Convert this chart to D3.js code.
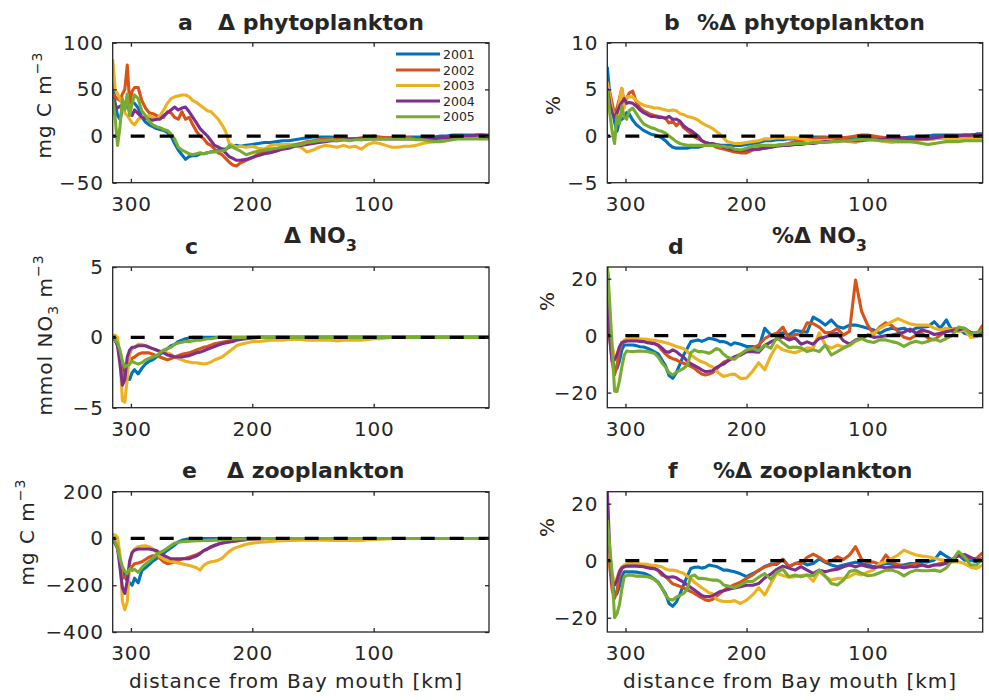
<!DOCTYPE html>
<html><head><meta charset="utf-8">
<script src="https://cdn.jsdelivr.net/npm/d3@7"></script>
<style>
body{margin:0;background:#fff}
svg{display:block}
text{font-family:"DejaVu Sans",sans-serif;fill:#262626}
</style>
</head><body>
<svg id="chart" width="989" height="700"></svg>
<script>
// ---------------- data ----------------
const km = [315,313,311,309,307,305,303,301,299,297,294,291,288,285,282,279,276,273,270,267,264,261,258,255,252,249,246,243,240,237,234,231,228,225,222,219,216,213,210,205,200,195,190,185,180,175,170,165,160,155,150,145,140,135,130,125,120,115,110,105,100,95,90,85,80,75,70,65,60,55,50,45,40,35,30,25,20,15,10,5];
const years = ["2001","2002","2003","2004","2005"];
const xTicks = [300,200,100];

// a: delta phytoplankton (mg C m-3)
const phytoDelta = [
 [60,35,22,18,28,30,35,38,36,35, 30,20,15,12,10,8,7,6,4,0, -8,-15,-20,-25,-22,-21,-21,-19,-19,-18, -17,-16,-15,-14,-14,-12,-11,-10,-11, -10,-9,-8,-7,-7,-6,-5,-5,-4,-3, -2,-1,-1,-1,-1,-2,-2,-3,-3,-4, -3,-2,-2,-2,-2,-1,-1,-1,-1,-1, -1,-1,0,0,1,1,1,1,1,1,0],
 [45,42,40,38,45,50,76,35,48,52, 52,38,30,25,24,22,20,20,26,25, 20,18,26,18,20,12,5,0,-3,-8, -10,-14,-18,-20,-24,-28,-31,-32,-29, -26,-23,-19,-17,-15,-14,-12,-11,-9,-8, -6,-5,-4,-3,-3,-3,-3,-3,-3,-2, -1,0,-1,-2,-2,-2,-2,-2,-3,-3, -3,-3,-3,-2,-2,-2,-2,-1,-1,-1,-1],
 [82,50,45,40,35,25,22,18,14,12, 18,20,20,22,20,18,22,28,35,40, 42,43,44,44,42,38,36,33,30,27, 26,22,18,12,5,-8,-10,-12,-11, -12,-11,-13,-14,-10,-9,-9,-9,-10,-12, -17,-15,-12,-10,-11,-12,-10,-12,-11,-14, -9,-7,-8,-10,-12,-12,-11,-11,-10,-8, -7,-6,-4,-3,-3,-2,-2,-2,-1,-1,-1],
 [41,33,30,32,33,30,36,25,22,28, 24,20,19,18,17,18,18,22,25,28, 31,28,30,31,26,20,14,8,4,0, -5,-10,-12,-14,-18,-22,-24,-26,-26, -25,-23,-21,-19,-18,-16,-14,-13,-11,-10, -9,-8,-7,-6,-5,-5,-4,-4,-3,-3, -3,-3,-3,-3,-3,-3,-3,-3,-3,-3, -3,-3,-2,-2,-2,-1,0,0,1,1,1],
 [40,20,-10,10,40,28,45,22,35,44, 40,27,22,16,12,10,9,7,6,2, -3,-12,-15,-17,-19,-20,-19,-18,-19,-18, -17,-17,-16,-16,-15,-10,-12,-14,-16, -20,-18,-16,-15,-14,-13,-12,-11,-10,-9, -7,-6,-5,-5,-4,-5,-4,-5,-4,-4, -3,-3,-3,-3,-3,-3,-3,-3,-4,-4, -5,-6,-6,-5,-4,-3,-3,-3,-3,-3,-3]
];
// b: % delta phytoplankton
const phytoPct = [
 [7.4,4.5,3.0,1.5,0.5,1.6,1.8,2.0,2.5,2.4, 1.7,1.2,0.9,0.6,0.4,0.2,0.1,0.0,-0.2,-0.5, -0.9,-1.2,-1.3,-1.3,-1.3,-1.3,-1.2,-1.2,-1.2,-1.1, -1.0,-1.0,-1.0,-1.0,-1.0,-1.0,-1.0,-1.0,-1.0, -1.0,-0.9,-0.8,-0.7,-0.5,-0.5,-0.4,-0.4,-0.3,-0.3, -0.2,-0.2,-0.1,-0.1,-0.1,-0.2,-0.2,-0.2,-0.2,-0.3, -0.3,-0.2,-0.2,-0.2,-0.2,-0.2,-0.2,-0.2,-0.1,-0.1, -0.1,0.0,0.1,0.1,0.1,0.1,0.1,0.1,0.1,0.2,0.2],
 [5.5,4.7,3.5,2.3,3.0,4.0,5.1,3.5,4.0,4.6, 4.8,3.6,3.0,2.7,2.5,2.3,2.2,2.1,2.0,1.9, 1.4,1.6,1.1,1.5,0.9,0.6,0.3,-0.1,-0.3,-0.5, -0.7,-0.8,-1.0,-1.2,-1.3,-1.4,-1.5,-1.6,-1.7, -1.8,-1.8,-1.5,-1.4,-1.3,-1.2,-1.0,-0.9,-0.8,-0.6, -0.5,-0.4,-0.3,-0.2,-0.2,-0.2,-0.2,-0.2,-0.1,0.0, 0.1,0.1,0.0,-0.1,-0.2,-0.2,-0.2,-0.3,-0.3,-0.3, -0.3,-0.3,-0.3,-0.2,-0.2,-0.2,-0.2,-0.1,-0.1,0.0,0.1],
 [5.8,4.3,2.8,2.2,2.0,3.8,5.1,3.0,4.2,4.2, 4.2,3.8,3.5,3.3,3.2,3.1,3.0,3.0,2.9,2.8, 2.7,2.8,2.7,2.4,2.3,2.1,2.0,1.9,1.7,1.4, 1.2,1.0,0.8,0.5,0.2,-0.2,-0.6,-0.7,-0.8, -0.8,-0.7,-0.6,-0.5,-0.3,-0.3,-0.2,-0.2,-0.2,-0.2, -0.3,-0.4,-0.5,-0.5,-0.5,-0.5,-0.5,-0.5,-0.6,-0.7, -0.4,-0.4,-0.4,-0.5,-0.6,-0.7,-0.6,-0.6,-0.6,-0.5, -0.4,-0.3,-0.3,-0.2,-0.2,-0.2,-0.2,-0.3,-0.3,-0.3,-0.3],
 [5.1,3.5,2.5,2.0,2.5,3.2,3.6,4.0,3.5,3.6, 3.5,3.2,2.8,2.5,2.3,2.1,2.1,2.0,2.0,1.9, 2.1,1.8,1.8,1.6,1.1,0.8,0.6,0.3,0.0,-0.5, -0.7,-0.8,-0.8,-0.9,-1.0,-1.2,-1.3,-1.4,-1.5, -1.6,-1.5,-1.4,-1.4,-1.3,-1.2,-1.1,-1.0,-1.0,-0.9, -0.9,-0.8,-0.8,-0.7,-0.6,-0.6,-0.5,-0.5,-0.5,-0.5, -0.5,-0.4,-0.4,-0.4,-0.3,-0.2,-0.2,-0.2,-0.3,-0.3, -0.3,-0.3,-0.2,-0.1,0.0,0.0,0.0,0.1,0.1,0.2,0.2],
 [4.9,2.5,0.5,-0.8,2.2,1.3,3.2,2.0,1.8,2.7, 3.0,2.4,1.8,1.3,1.1,0.9,0.8,0.6,0.5,0.3, 0.0,-0.3,-0.6,-0.8,-0.9,-1.0,-1.0,-1.0,-1.0,-1.0, -1.0,-1.0,-1.0,-1.0,-1.1,-1.1,-1.2,-1.2,-1.4, -1.5,-1.3,-1.1,-1.0,-1.0,-1.0,-1.0,-0.9,-0.9,-0.8, -0.8,-0.8,-0.7,-0.7,-0.7,-0.6,-0.6,-0.5,-0.5,-0.4, -0.4,-0.4,-0.4,-0.5,-0.5,-0.5,-0.6,-0.6,-0.6,-0.7, -0.8,-0.9,-0.8,-0.7,-0.6,-0.6,-0.6,-0.5,-0.5,-0.5,-0.5]
];
// c: delta NO3 (mmol NO3 m-3)
const no3Delta = [
 [0.0,-0.2,-0.5,-1.2,-2.1,-2.7,-3.0,-3.0,-2.5,-2.3, -2.6,-2.2,-1.9,-1.7,-1.6,-1.4,-1.2,-1.0,-0.8,-0.6, -0.5,-0.3,-0.2,-0.1,-0.05,0,0,0,0,0, 0,0,0,0,0,0,0,0,0, 0,0,0,0,0,0,0,0,0,0, 0,0,0,0,0,0,0,0,0,0, 0,0,0,0,0,0,0,0,0,0, 0,0,0,0,0,0,0,0,0,0,0],
 [0.1,-0.2,-0.5,-1.4,-3.0,-2.5,-2.1,-1.7,-1.5,-1.4, -1.2,-1.1,-1.1,-1.1,-1.2,-1.3,-1.4,-1.5,-1.6,-1.5, -1.4,-1.3,-1.2,-1.15,-1.1,-1.0,-0.9,-0.8,-0.7,-0.65, -0.55,-0.45,-0.4,-0.35,-0.3,-0.25,-0.2,-0.15,-0.1, -0.05,0,0,0,0,0,0,0,0,0, 0,0,0,0,0,0,0,0,0,0, 0,0,0,0,0,0,0,0,0,0, 0,0,0,0,0,0,0,0,0,0,0],
 [0.15,0.15,0.0,-1.5,-4.5,-4.6,-2.9,-1.2,-0.8,-0.7, -0.5,-0.5,-0.6,-0.7,-0.8,-0.9,-1.0,-1.0,-1.1,-1.2, -1.4,-1.5,-1.6,-1.7,-1.75,-1.8,-1.8,-1.85,-1.9,-1.85, -1.75,-1.6,-1.5,-1.4,-1.2,-1.0,-0.8,-0.6,-0.5, -0.4,-0.3,-0.3,-0.25,-0.2,-0.2,-0.2,-0.15,-0.15,-0.15, -0.2,-0.2,-0.2,-0.2,-0.2,-0.25,-0.2,-0.2,-0.2,-0.2, -0.15,-0.1,-0.1,-0.05,0,0,0,0,0,0, 0,0,0,0,0,0,0,0,0,0,0],
 [0.0,-0.2,-0.6,-1.9,-3.4,-3.0,-1.4,-0.9,-0.7,-0.7, -0.6,-0.6,-0.6,-0.7,-0.8,-0.9,-1.0,-1.1,-1.25,-1.3, -1.4,-1.4,-1.4,-1.35,-1.3,-1.2,-1.1,-1.05,-0.95,-0.85, -0.75,-0.65,-0.55,-0.45,-0.4,-0.35,-0.3,-0.2,-0.15, -0.1,-0.05,0,0,0,0,0,0,0,0, 0,0,0,0,0,0,0,0,0,0, 0,0,0,0,0,0,0,0,0,0, 0,0,0,0,0,0,0,0,0,0,0],
 [0.1,-0.2,-0.4,-0.9,-1.7,-2.1,-2.0,-1.9,-1.7,-1.8, -1.9,-1.8,-1.6,-1.5,-1.4,-1.3,-1.1,-0.9,-0.8,-0.7, -0.5,-0.4,-0.35,-0.3,-0.3,-0.25,-0.2,-0.2,-0.15,-0.1, -0.1,-0.05,0,0,0,0,0,0,0, 0,0,0,0,0,0,0,0,0,0, 0,0,0,0,0,0,0,0,0,0, 0,0,0,0,0,0,0,0,0,0, 0,0,0,0,0,0,0,0,0,0,0]
];
// d: % delta NO3
const no3Pct = [
 [24.5,1.4,-6.8,-12.6,-11.5,-9,-5,-3.3,-3.3,-3.3, -3.3,-3.5,-3.9,-4.0,-4.4,-5.0,-5.7,-6.4,-8.5,-10.5, -14,-15,-13,-10,-6.8,-4.5,-2.1,-1.8,-1.5,-2.0, -1.5,-0.9,-1.2,-1.5,-2.1,-2.1,-2.5,-3.3,-2.5, -3.0,-3.8,-3.8,-4.4,2.6,0.2,0.6,1.0,0.2,1.8, 1.5,1.2,6.5,5.3,3.7,5.5,3.2,2.6,3.7,3.7, 3.2,2.6,2.0,0.8,2.0,2.6,2.2,2.6,1.5,2.6, 3.0,3.2,4.9,2.6,5.5,1.5,2.6,0.8,0.4,1.0,1.2],
 [24.8,-1,-9.1,-13.8,-10.3,-5,-2.5,-2.1,-1.8,-1.6, -1.5,-1.5,-1.5,-1.7,-1.9,-2.1,-2.8,-3.5,-5,-6.4, -7.5,-8.1,-8.5,-9.2,-9.7,-10.3,-10.8,-11.5,-12.6,-13.5, -13.8,-13.5,-13,-11.8,-10.5,-9.3,-8.8,-8.1,-7.5, -6.5,-5.6,-4.4,-3.3,-1.0,0.2,0.8,3.0,-1.0,0.5, 0.2,4.5,4.2,3.0,1.0,1.2,2.5,0.2,1.5,19.5, 8.5,3.7,0.5,3.0,4.5,3.5,1.5,-0.6,-1.2,0.2, 0.8,-0.9,-1.5,0.2,1.5,2.3,2.6,2.0,1.2,0.2,3.7],
 [24.0,3.7,-3.3,-8,-6.8,-4,-2.5,-1.5,-1.2,-1.0, -0.9,-0.9,-1.1,-1.2,-1.3,-1.5,-1.6,-1.9,-2.1,-2.5, -2.8,-3.3,-3.8,-4.2,-4.5,-5.5,-6.8,-7.7,-8.5,-9.2, -9.6,-10.5,-11,-12.3,-13.5,-14.3,-14,-13.6,-13.5, -15,-14.9,-12.5,-9.5,-12,-7,-3.5,-5,-5.6,-6, -5.2,-4.4,-4.4,1.0,-3.3,-4.4,-3.3,-4.0,-3.5,-2.0, -0.9,0.2,0.8,2.5,3.7,4.9,6.0,5.0,4.2,3.7, 3.7,3.7,2.6,2.0,2.6,2.0,1.4,2.0,-0.6,-0.3,0.8],
 [24.5,-1,-9,-8.5,-6.8,-4,-2.5,-2.1,-1.9,-1.9, -1.9,-1.9,-2.0,-2.1,-2.5,-2.7,-2.8,-3.3,-4.3,-5.6, -5.8,-5.0,-5.6,-6.7,-7.5,-9.0,-9.8,-10.5,-11.2,-12, -12.6,-12.5,-12.3,-11.2,-10.5,-10,-9.1,-8.3,-7.5, -6.9,-5.6,-5.6,-5.8,-3.5,-2.2,-1.2,-0.4,-1.5,-0.8, -3.0,-2.2,-3.0,-1.0,-0.5,0.5,0.8,-1.8,-3.0,-1.5, -0.9,0.2,-0.6,-0.4,0.0,0.2,0.7,1.2,2.3,0.8, 2.0,1.4,0.4,0.8,1.4,1.8,2.0,2.6,1.0,0.8,1.4],
 [24.8,11.3,-4,-19.5,-19.6,-16,-11,-6.8,-5.4,-5.5, -5.6,-5.5,-5.4,-5.5,-5.6,-5.9,-6.2,-7.5,-9.5,-11, -13,-13.8,-12.8,-12.2,-11.5,-10.4,-6,-5,-5.6,-5.6, -5.8,-6.2,-5.5,-4.5,-5,-6.5,-7.5,-8,-8.3, -6.5,-5,-4.5,-5.3,-3.3,-4.4,-0.6,-2.6,-4.2,-4.0, -4.3,-5.6,-5.0,-5.6,-3.3,-6.8,-5.6,-4.4,-3.3,-1.8, -1.0,-2.0,-2.4,-1.5,-1.5,-2.1,-2.6,-3.8,-2.6,-2.0, -2.6,-2.0,-1.2,-2.0,-1.0,0.2,3.0,2.6,0.6,1.0,2.0]
];
// e: delta zooplankton (mg C m-3)
const zooDelta = [
 [5,-20,-40,-90,-135,-165,-180,-190,-200,-170, -190,-137,-125,-112,-97,-87,-75,-63,-51,-40, -28,-15,-8,-4,-2,0,0,0,0,0, 0,0,0,0,0,0,0,0,0, 0,0,0,0,0,0,0,0,0,0, 0,0,0,0,0,0,0,0,0,0, 0,0,0,0,0,0,0,0,0,0, 0,0,0,0,0,0,0,0,0,0,0],
 [5,-20,-45,-100,-170,-165,-155,-135,-120,-108, -105,-100,-90,-80,-74,-75,-85,-100,-108,-105, -100,-93,-88,-85,-80,-75,-70,-62,-52,-45, -38,-31,-25,-20,-17,-15,-13,-11,-9, -5,-3,-2,-1,0,0,0,0,0,0, 0,0,0,0,0,0,0,0,0,0, 0,0,0,0,0,0,0,0,0,0, 0,0,0,0,0,0,0,0,0,0,0],
 [18,15,5,-70,-270,-305,-270,-110,-60,-45, -35,-32,-31,-35,-44,-60,-78,-88,-94,-98, -101,-105,-108,-112,-115,-120,-125,-135,-115,-105, -100,-97,-93,-85,-70,-55,-45,-38,-33, -25,-20,-17,-15,-13,-11,-10,-9,-8,-7, -7,-7,-7,-7,-8,-8,-9,-9,-10,-9, -5,-4,-3,-2,-1,0,0,0,0,0, 0,0,0,0,0,0,0,0,0,0,0],
 [0,-20,-40,-125,-210,-235,-180,-95,-60,-50, -45,-45,-45,-45,-48,-52,-62,-73,-80,-87, -87,-87,-87,-87,-87,-80,-75,-65,-52,-45, -35,-29,-24,-19,-16,-14,-12,-10,-8, -4,-2,-1,0,0,0,0,0,0,0, 0,0,0,0,0,0,0,0,0,0, 0,0,0,0,0,0,0,0,0,0, 0,0,0,0,0,0,0,0,0,0,0],
 [5,-15,-40,-85,-120,-140,-150,-130,-137,-132, -145,-125,-110,-97,-85,-68,-60,-52,-42,-30, -20,-16,-14,-13,-12,-11,-10,-10,-9,-8, -8,-7,-7,-6,-5,-4,-3,-3,-2, -2,-1,-1,0,0,0,0,0,0,0, 0,0,0,0,0,0,0,0,0,0, 0,0,0,0,0,0,0,0,0,0, 0,0,0,0,0,0,0,0,0,0,0]
];
// f: % delta zooplankton
const zooPct = [
 [15.4,0.2,-6.8,-12.6,-11.5,-9,-5.5,-3.9,-3.9,-3.9, -3.9,-4.0,-4.2,-4.4,-4.9,-5.6,-6.5,-7.5,-9.5,-11.5, -15,-16,-14.5,-11.7,-8.5,-5.5,-2.7,-2.3,-2.2,-2.6, -2.3,-1.5,-1.8,-2.0,-2.6,-3.3,-3.3,-3.6,-3.9, -4.6,-5.6,-4.5,-3.5,-2.0,-1.2,-1.3,0.5,-2.1,-1.0, -0.4,-1.5,-1.0,0.6,-0.6,-1.5,-2.1,-1.5,-1.0,-0.5, -1.0,-1.5,-2.1,-1.5,-1.0,-1.2,-1.5,-1.5,-1.0,-1.0, -0.4,-0.4,0.2,3.0,1.5,0.2,2.0,0.2,0.2,-0.4,0.2],
 [21,-2.1,-10.3,-13.2,-10.3,-5,-2.8,-2.0,-1.6,-1.5, -1.5,-1.5,-1.5,-1.7,-1.9,-2.1,-2.6,-3.5,-5,-5.5, -6.8,-8.1,-8.5,-9.0,-9.5,-10.2,-10.8,-11.5,-12.3,-13, -13.8,-14.0,-13.5,-12.5,-11.5,-10.5,-9.5,-9.0,-8.4, -7.5,-6.2,-5.0,-3.3,-2.2,-1.5,-1.0,0.5,-2.1,-1.0, -1.0,1.2,2.3,1.2,-0.3,0,1.4,0.4,2.0,4.9, 0.5,-0.5,-0.5,-1.2,2.0,-0.5,-1.5,-2.1,-1.5,-1.0, -1.5,-2.0,-1.5,-1.0,-0.5,0.5,2.0,1.4,0.8,0.8,2.8],
 [10.8,1.4,-4.4,-8.1,-6.2,-3.5,-2.2,-1.5,-1.2,-1.0, -0.9,-0.9,-1.1,-1.2,-1.3,-1.5,-1.6,-1.9,-2.1,-2.9, -3.3,-3.3,-3.5,-4.0,-4.4,-5.5,-6.2,-7.6,-8.5,-9.5, -10.3,-11.2,-11.6,-13.5,-14,-14.3,-14.3,-14.3,-14.0, -15,-13.8,-12.0,-9.5,-12,-8,-4.4,-5.2,-5.8,-5.6, -5.2,-5.0,-7.2,-3.8,-5.6,-6.8,-6.2,-6.2,-5.6,-4.4, -5.0,-4.0,-3.2,-1.0,-0.4,0.8,2.0,3.7,2.8,2.0, 1.6,1.4,0.9,0.4,0,-0.4,-0.4,-1.0,-2.3,-2.7,-1.5],
 [24.8,4,-8.1,-8.5,-6.8,-4,-2.5,-2.1,-1.9,-1.9, -1.9,-1.9,-2.0,-2.1,-2.5,-2.7,-2.8,-3.3,-4.3,-5.6, -5.8,-5.6,-6.0,-6.8,-7.5,-8.5,-9.4,-10.3,-11.2,-12.2, -12.6,-12.6,-12.3,-11.5,-10.8,-10.5,-10.2,-9.8,-9.6, -9.1,-8.6,-8.6,-8,-6.0,-4.7,-3.0,-1.9,-2.6,-3.3, -2.1,-3.3,-4.4,-3.3,-3.9,-3.3,-3.0,-2.1,-1.5,-2.1, -1.5,-2.1,-2.5,-2.1,-2.5,-2.3,-2.1,-2.5,-2.1,-2.1, -1.5,-2.1,-1.5,-1.5,-0.9,0.5,1.8,2.2,1.2,0.2,0.8],
 [14.3,5,-5,-20,-18.5,-15.5,-10,-5.6,-5.2,-5.0, -5.2,-5.4,-5.4,-5.5,-5.6,-6.0,-6.6,-7.8,-9.5,-12, -13.5,-13.8,-12.8,-12.2,-11.5,-10,-5.5,-5.0,-6.2,-6.2, -6.3,-6.6,-6.8,-6.8,-7.2,-8.5,-8.8,-9.1,-9.4, -8.5,-7.3,-7.3,-5.8,-4.5,-6.5,-4.0,-3.0,-5.6,-5.0, -5.6,-5.0,-5.3,-3.3,-5.4,-8,-8.5,-6.8,-3.8,-3.3, -4.4,-5.3,-5.0,-4.2,-3.3,-3.3,-4.0,-5.3,-4.0,-3.3, -3.5,-3.5,-3.3,-3.8,-2.5,0.2,3.2,1.4,-1.5,-1.5,0.8]
];

// ---------------- layout / style ----------------
const colors = ["#0072BD","#D95319","#EDB120","#7E2F8E","#77AC30"];
const ink = "#262626";
const colX = [[112.7,489],[607.3,982.7]];
const rowY = [[42.7,182.7],[267,407.7],[491.7,632]];

const panels = [
 {vals:phytoDelta, col:0, row:0, domain:[-50,100], ticks:[-50,0,50,100]},
 {vals:phytoPct,   col:1, row:0, domain:[-5,10],   ticks:[-5,0,5,10]},
 {vals:no3Delta,   col:0, row:1, domain:[-5,5],    ticks:[-5,0,5]},
 {vals:no3Pct,     col:1, row:1, domain:[-25.3,24.1], ticks:[-20,0,20]},
 {vals:zooDelta,   col:0, row:2, domain:[-400,200], ticks:[-400,-200,0,200]},
 {vals:zooPct,     col:1, row:2, domain:[-25,24.2], ticks:[-20,0,20]}
];

const svg = d3.select("#chart");
const fmt = d3.format("");

panels.forEach((p, pi) => {
  const [x0,x1] = colX[p.col], [y0,y1] = rowY[p.row];
  const x = d3.scaleLinear().domain([315,5]).range([x0,x1]);
  const y = d3.scaleLinear().domain(p.domain).range([y1,y0]);
  const g = svg.append("g");

  const cid = "clip"+pi;
  svg.append("clipPath").attr("id",cid).append("rect")
    .attr("x",x0).attr("y",y0).attr("width",x1-x0).attr("height",y1-y0);

  const line = d3.line().x(d=>x(d[0])).y(d=>y(d[1]));
  const lg = g.append("g").attr("clip-path",`url(#${cid})`);
  p.vals.forEach((s,i) => {
    const pts = km.map((k,j)=>[k,s[j]]).filter(d=>d[1]!==undefined);
    lg.append("path").attr("d",line(pts)).attr("fill","none")
      .attr("stroke",colors[i]).attr("stroke-width",3.1)
      .attr("stroke-linejoin","round").attr("stroke-linecap","butt");
  });
  // zero dashed line
  lg.append("path").attr("d",line([[315,0],[5,0]]))
    .attr("stroke","#000").attr("stroke-width",3.3).attr("fill","none")
    .attr("stroke-dasharray","14,15").attr("stroke-dashoffset",11);

  // axes
  const axB = d3.axisBottom(x).tickValues(xTicks).tickSize(-4).tickPadding(14).tickFormat(fmt);
  const axT = d3.axisTop(x).tickValues(xTicks).tickSize(-4).tickFormat(()=> "");
  const axL = d3.axisLeft(y).tickValues(p.ticks).tickSize(-4).tickPadding(9).tickFormat(fmt);
  const axR = d3.axisRight(y).tickValues(p.ticks).tickSize(-4).tickFormat(()=> "");
  const add = (ax, tr) => {
    const a = g.append("g").attr("transform",tr).call(ax);
    a.attr("font-size",null).attr("font-family",null).attr("color",ink);
    a.select(".domain").remove();
    a.selectAll(".tick line").attr("stroke-width",1.3);
    a.selectAll("text").style("font-size","20px").style("letter-spacing","0.8px").attr("fill",ink);
    return a;
  };
  add(axB, `translate(0,${y1})`);
  add(axT, `translate(0,${y0})`);
  add(axL, `translate(${x0},0)`);
  add(axR, `translate(${x1},0)`);
  g.append("rect").attr("x",x0).attr("y",y0).attr("width",x1-x0).attr("height",y1-y0)
    .attr("fill","none").attr("stroke",ink).attr("stroke-width",1.3);
});

// ---------------- titles ----------------
function title(letter, lx, ly, parts, tx, ty){
  svg.append("text").attr("x",lx).attr("y",ly).attr("font-weight","bold")
    .style("font-size","22px").attr("fill","#000").text(letter);
  const t = svg.append("text").attr("x",tx).attr("y",ty).attr("font-weight","bold")
    .style("font-size","22px").attr("fill","#000");
  parts.forEach(pt => {
    const s = t.append("tspan").text(pt.t);
    if (pt.sub) s.style("font-size","16px").attr("dy",8);
  });
}
title("a",178,30,[{t:"\u0394 phytoplankton"}],218,30);
title("b",664,30,[{t:"%\u0394 phytoplankton"}],697,30);
title("c",185,254,[{t:"\u0394 NO"},{t:"3",sub:true}],284,243);
title("d",668,254,[{t:"%\u0394 NO"},{t:"3",sub:true}],772,243);
title("e",182,478,[{t:"\u0394 zooplankton"}],227,478);
title("f",668,478,[{t:"%\u0394 zooplankton"}],713,478);

// ---------------- y labels ----------------
function ylabel(cx, cy, parts){
  const t = svg.append("text").attr("transform",`translate(${cx},${cy}) rotate(-90)`)
    .attr("text-anchor","middle").style("font-size","20px").style("letter-spacing","1px").attr("fill",ink);
  let level = 0;
  parts.forEach(pt => {
    const s = t.append("tspan").text(pt.t);
    const target = pt.sup ? -9 : pt.sub ? 6 : 0;
    if (target !== level) { s.attr("dy", target - level); level = target; }
    if (pt.sup || pt.sub) s.style("font-size","14px");
  });
}
ylabel(51,105,[{t:"mg C m"},{t:"\u22123",sup:true}]);
ylabel(52,335,[{t:"mmol NO"},{t:"3",sub:true},{t:" m"},{t:"\u22123",sup:true}]);
ylabel(34,532,[{t:"mg C m"},{t:"\u22123",sup:true}]);
ylabel(560,105,[{t:"%"}]);
ylabel(554,301,[{t:"%"}]);
ylabel(554,527,[{t:"%"}]);

// ---------------- x labels ----------------
[[296,688],[790,688]].forEach(([cx,cy]) => {
  svg.append("text").attr("x",cx).attr("y",cy).attr("text-anchor","middle")
    .style("font-size","20px").style("letter-spacing","1px").attr("fill",ink)
    .text("distance from Bay mouth [km]");
});

// ---------------- legend ----------------
const legY = [54,70,85.5,101,116.7];
years.forEach((yr,i) => {
  svg.append("line").attr("x1",396).attr("x2",440).attr("y1",legY[i]).attr("y2",legY[i])
    .attr("stroke",colors[i]).attr("stroke-width",3);
  svg.append("text").attr("x",443).attr("y",legY[i]).attr("dy","0.36em")
    .style("font-size","12.5px").attr("fill","#000").text(yr);
});
</script>
</body></html>
